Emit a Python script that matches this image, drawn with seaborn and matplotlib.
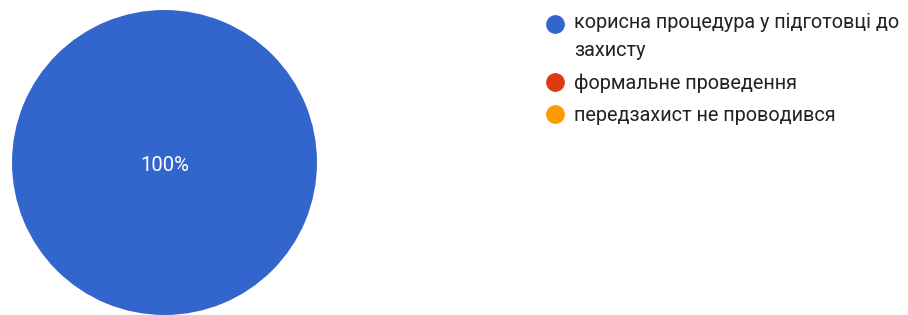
import matplotlib
matplotlib.use("Agg")
import numpy as np
import matplotlib.pyplot as plt
from matplotlib.lines import Line2D
from matplotlib.legend_handler import HandlerLine2D
import seaborn as sns

# data
categories = ["корисна процедура у підготовці до\nзахисту",
              "формальне проведення",
              "передзахист не проводився"]
shares = [100, 0, 0]
colors = ["#3366CC", "#DC3912", "#FF9900"]

sns.set_theme(style="white")
plt.rcParams['font.family'] = ['Roboto', 'DejaVu Sans']

W, H = 908, 315
FS = 14.3
LS = 1.6
fig = plt.figure(figsize=(W / 100, H / 100), dpi=100)

# pie axes: centre ~ (164.5, 162.5) px, radius ~152.5 px
r = 152.5
cx, cy = 164.5, 162.5
ax = fig.add_axes([(cx - r) / W, (H - cy - r) / H, 2 * r / W, 2 * r / H])

palette = sns.color_palette(colors)
wedges, texts, autotexts = ax.pie(
    shares, colors=palette, startangle=90, counterclock=False,
    autopct=lambda p: f"{p:.0f}%" if p > 0 else "",
    pctdistance=0.0, radius=1.0,
    textprops=dict(color="white", fontsize=14.5),
    wedgeprops=dict(linewidth=0))
for t in autotexts:
    x, y = t.get_position()
    t.set_position((x, y - 0.02))
ax.set_xlim(-1, 1)
ax.set_ylim(-1, 1)
ax.set_aspect("equal")
ax.axis("off")


class TopLineHandler(HandlerLine2D):
    """put the marker next to the first line of a wrapped label"""
    def __init__(self, shift, **kw):
        super().__init__(**kw)
        self.shift = shift

    def create_artists(self, legend, orig_handle, xdescent, ydescent,
                       width, height, fontsize, trans):
        arts = super().create_artists(legend, orig_handle, xdescent, ydescent,
                                      width, height, fontsize, trans)
        for a in arts:
            a.set_ydata(np.asarray(a.get_ydata()) + self.shift)
        return arts


handles = [Line2D([0], [0], marker="o", linestyle="", markersize=13.5,
                  markerfacecolor=c, markeredgewidth=0) for c in colors]
handler_map = {}
for h, lab in zip(handles, categories):
    n = lab.count("\n")
    if n:
        handler_map[h] = TopLineHandler(shift=n * 0.5 * FS * 1.32)

leg = fig.legend(handles, categories, loc="upper left",
                 bbox_to_anchor=(545.5 / W, 1 - 13 / H),
                 frameon=False, fontsize=FS, borderpad=0, borderaxespad=0,
                 handlelength=1.0, handletextpad=0.45, labelspacing=0.66,
                 handler_map=handler_map)
for t in leg.get_texts():
    t.set_color("#222222")
    t.set_linespacing(LS)

fig.savefig("out.png", dpi=100, facecolor="white")
